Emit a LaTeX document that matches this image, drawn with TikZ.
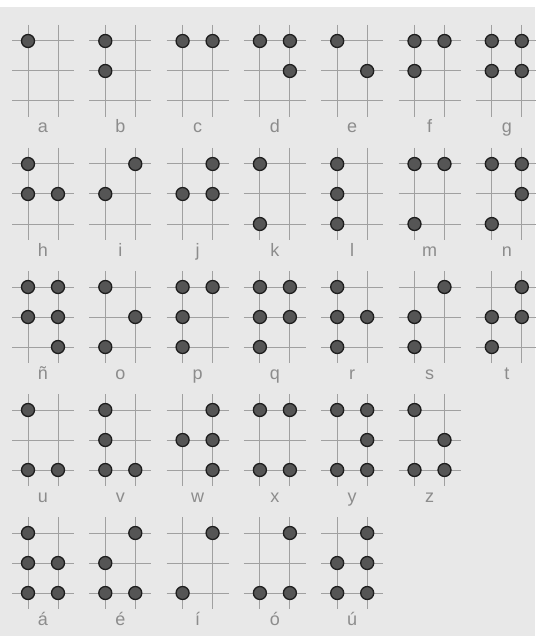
\documentclass[tikz,border=0pt]{standalone}
\usepackage{fontspec}
\setsansfont{Liberation Sans}
\definecolor{brailleDot}{HTML}{555555}
\definecolor{brailleRim}{HTML}{1E1E1E}
\definecolor{brailleGrid}{HTML}{A0A0A0}
\definecolor{braillePaper}{HTML}{E8E8E8}
\definecolor{brailleText}{HTML}{8C8C8C}

\tikzset{
  gridline/.style={brailleGrid, line width=1pt},
  braillept/.style={circle, fill=brailleDot, draw=brailleRim, line width=1.3pt,
    minimum size=13pt, inner sep=0pt},
  letter/.style={font=\sffamily\fontsize{18}{18}\selectfont, text=brailleText,
    inner sep=0pt, anchor=base}
}

\begin{document}
\begin{tikzpicture}[x=1pt,y=-1pt]
  \fill[braillePaper] (0,0) rectangle (535,636);
  \fill[white] (0,0) rectangle (535,7);
  \useasboundingbox (0,0) rectangle (535,636);
  % one cell per letter, seven to a row (the row of u..z holds six)
  \foreach \lab/\pts [count=\i from 0] in {a/{1},b/{1,2},c/{1,4},d/{1,4,5},e/{1,5},
      f/{1,2,4},g/{1,2,4,5},h/{1,2,5},i/{2,4},j/{2,4,5},k/{1,3},l/{1,2,3},
      m/{1,3,4},n/{1,3,4,5},ñ/{1,2,4,5,6},o/{1,3,5},p/{1,2,3,4},q/{1,2,3,4,5},
      r/{1,2,3,5},s/{2,3,4},t/{2,3,4,5},u/{1,3,6},v/{1,2,3,6},w/{2,4,5,6},
      x/{1,3,4,6},y/{1,3,4,5,6},z/{1,3,5,6},á/{1,2,3,5,6},é/{2,3,4,6},
      í/{3,4},ó/{3,4,6},ú/{2,3,4,5,6}}{
    \pgfmathtruncatemacro\k{\i+(\i>26)}
    \pgfmathsetmacro\cx{28+77.3*mod(\k,7)}
    \pgfmathsetmacro\cy{41+123*floor(\k/7)}
    \foreach \r in {0,1,2}
      \draw[gridline] (\cx-16,\cy+30*\r) -- (\cx+46,\cy+30*\r);
    \foreach \c in {0,1}
      \draw[gridline] (\cx+30*\c,\cy-16) -- (\cx+30*\c,\cy+76);
    \foreach \d in \pts {
      \pgfmathsetmacro\dx{\cx+30*(\d>3)}
      \pgfmathsetmacro\dy{\cy+30*mod(\d-1,3)}
      \node[braillept] (dot-\i-\d) at (\dx,\dy) {};
    }
    \node[letter] (lab-\i) at (\cx+15,\cy+92) {\lab};
  }
\end{tikzpicture}
\end{document}
